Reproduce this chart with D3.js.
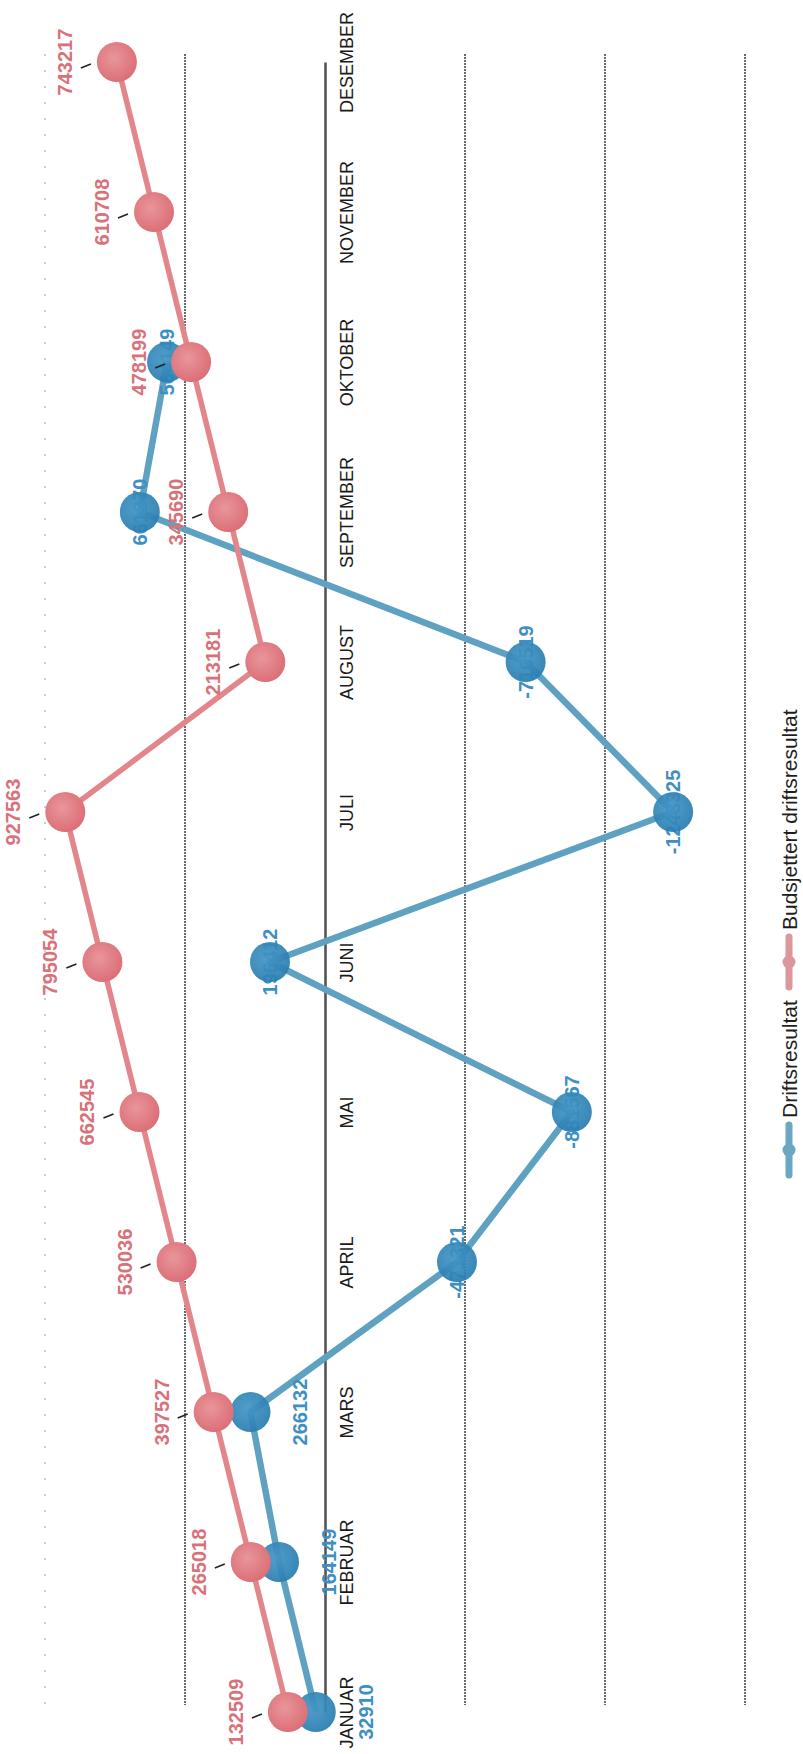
<!DOCTYPE html>
<html>
<head>
<meta charset="utf-8">
<script src="https://cdn.jsdelivr.net/npm/d3@7/dist/d3.min.js"></script>
<style>
  html, body { margin: 0; padding: 0; background: #ffffff; }
  svg { display: block; }
  text { font-family: "Liberation Sans", Arial, sans-serif; }
</style>
</head>
<body>
<svg id="chart" width="803" height="1754"></svg>
<script>
// ---- data ----
const months = ["JANUAR","FEBRUAR","MARS","APRIL","MAI","JUNI","JULI","AUGUST","SEPTEMBER","OKTOBER","NOVEMBER","DESEMBER"];
const budsjettert = [132509, 265018, 397527, 530036, 662545, 795054, 927563, 213181, 345690, 478199, 610708, 743217];
const driftsresultat = [32910, 164149, 266132, -471321, -881567, 196412, -1243325, -716519, 661370, 564149]; // januar–oktober
const valueTicks = [-1500000, -1000000, -500000, 0, 500000, 1000000];
const seriesNames = ["Driftsresultat", "Budsjettert driftsresultat"];

// ---- setup ----
const svg = d3.select("#chart");

// Chart is rotated 90° counter-clockwise: months run bottom -> top, positive values go left.
const y = d3.scalePoint().domain(months).range([1712, 62]);
const x = d3.scaleLinear().domain([-1500000, 1000000]).range([745, 45]);

const defs = svg.append("defs");
function grad(id, c0, c1) {
  const g = defs.append("radialGradient").attr("id", id)
    .attr("cx", "42%").attr("cy", "40%").attr("r", "60%");
  g.append("stop").attr("offset", "0%").attr("stop-color", c0);
  g.append("stop").attr("offset", "100%").attr("stop-color", c1);
}
grad("gPink", "#e8969b", "#dc6f77");
grad("gBlue", "#4596c6", "#2a7fb2");
defs.append("filter").attr("id", "soft")
  .append("feGaussianBlur").attr("stdDeviation", 0.7);

// ---- gridlines ----
const grid = svg.append("g");
grid.selectAll("line")
  .data(valueTicks.filter(v => v !== 0))
  .join("line")
  .attr("x1", d => x(d)).attr("x2", d => x(d))
  .attr("y1", 54).attr("y2", 1705)
  .attr("stroke", d => d === 1000000 ? "#9a9a9a" : "#1e1e1e")
  .attr("stroke-width", d => d === 1000000 ? 1 : 1.3)
  .attr("stroke-dasharray", d => d === 1000000 ? "2,14" : "2,1");

// ---- category axis at zero ----
const axis = d3.axisRight(y).tickSize(0).tickPadding(0);
const axG = svg.append("g").attr("transform", `translate(${x(0)},0)`).call(axis);
axG.select(".domain").attr("stroke", "#555").attr("stroke-width", 2.6);
axG.selectAll(".tick text")
  .attr("x", 0).attr("dy", null)
  .attr("text-anchor", "middle")
  .attr("dominant-baseline", "central")
  .attr("transform", "translate(22,0) rotate(-90)")
  .attr("font-size", 18)
  .attr("font-family", "'Liberation Sans', Arial, sans-serif")
  .attr("fill", "#1a1a1a");

// ---- series ----
const line = d3.line().x(d => x(d.v)).y(d => y(d.m));
const blueData = driftsresultat.map((v, i) => ({ m: months[i], v }));
const pinkData = budsjettert.map((v, i) => ({ m: months[i], v }));
const blueOutsideLabels = new Set(["JANUAR", "FEBRUAR", "MARS"]);

// Driftsresultat (blue)
const gB = svg.append("g");
gB.append("path").datum(blueData).attr("d", line)
  .attr("fill", "none").attr("stroke", "#5ea1c1").attr("stroke-width", 6.5)
  .attr("stroke-linejoin", "round").attr("filter", "url(#soft)");
gB.selectAll("text.inner").data(blueData.filter(d => !blueOutsideLabels.has(d.m)))
  .join("text").attr("class", "inner")
  .attr("transform", d => `translate(${x(d.v)},${y(d.m)}) rotate(-90)`)
  .attr("text-anchor", "middle").attr("dominant-baseline", "central")
  .attr("font-size", 20).attr("font-weight", "bold").attr("fill", "#3d8fc4")
  .text(d => d.v);
gB.selectAll("circle").data(blueData).join("circle")
  .attr("cx", d => x(d.v)).attr("cy", d => y(d.m)).attr("r", 20)
  .attr("fill", "url(#gBlue)").attr("opacity", 0.93).attr("filter", "url(#soft)");
gB.selectAll("text.outer").data(blueData.filter(d => blueOutsideLabels.has(d.m)))
  .join("text").attr("class", "outer")
  .attr("transform", d => `translate(${x(d.v) + 50},${y(d.m)}) rotate(-90)`)
  .attr("text-anchor", "middle").attr("dominant-baseline", "central")
  .attr("font-size", 20).attr("font-weight", "bold").attr("fill", "#3d8fc4")
  .text(d => d.v);

// Budsjettert driftsresultat (pink)
const gP = svg.append("g");
gP.append("path").datum(pinkData).attr("d", line)
  .attr("fill", "none").attr("stroke", "#e3868c").attr("stroke-width", 5.5)
  .attr("stroke-linejoin", "round").attr("filter", "url(#soft)");
gP.selectAll("circle").data(pinkData).join("circle")
  .attr("cx", d => x(d.v)).attr("cy", d => y(d.m)).attr("r", 20)
  .attr("fill", "url(#gPink)").attr("filter", "url(#soft)");
gP.selectAll("line.leader").data(pinkData).join("line").attr("class", "leader")
  .attr("x1", d => x(d.v) - 36).attr("y1", d => y(d.m) + 6)
  .attr("x2", d => x(d.v) - 26).attr("y2", d => y(d.m) + 2)
  .attr("stroke", "#222").attr("stroke-width", 1.6);
gP.selectAll("text").data(pinkData).join("text")
  .attr("transform", d => `translate(${x(d.v) - 52},${y(d.m)}) rotate(-90)`)
  .attr("text-anchor", "middle").attr("dominant-baseline", "central")
  .attr("font-size", 20).attr("font-weight", "bold").attr("fill", "#d8727a")
  .text(d => d.v);

// ---- legend ----
const legend = [
  { name: seriesNames[0], color: "#6aa8c2", cy: 1150 },
  { name: seriesNames[1], color: "#dc979c", cy: 962 }
];
const lg = svg.append("g").attr("transform", "translate(789,0)");
legend.forEach(l => {
  lg.append("line").attr("x1", 0).attr("x2", 0)
    .attr("y1", l.cy - 25).attr("y2", l.cy + 25)
    .attr("stroke", l.color).attr("stroke-width", 7).attr("stroke-linecap", "round");
  lg.append("circle").attr("cx", 0).attr("cy", l.cy).attr("r", 6.5).attr("fill", l.color);
  lg.append("text")
    .attr("transform", `translate(0,${l.cy - 32}) rotate(-90)`)
    .attr("text-anchor", "start").attr("dominant-baseline", "central")
    .attr("font-size", 21).attr("fill", "#1e1e1e")
    .text(l.name);
});
</script>
</body>
</html>
